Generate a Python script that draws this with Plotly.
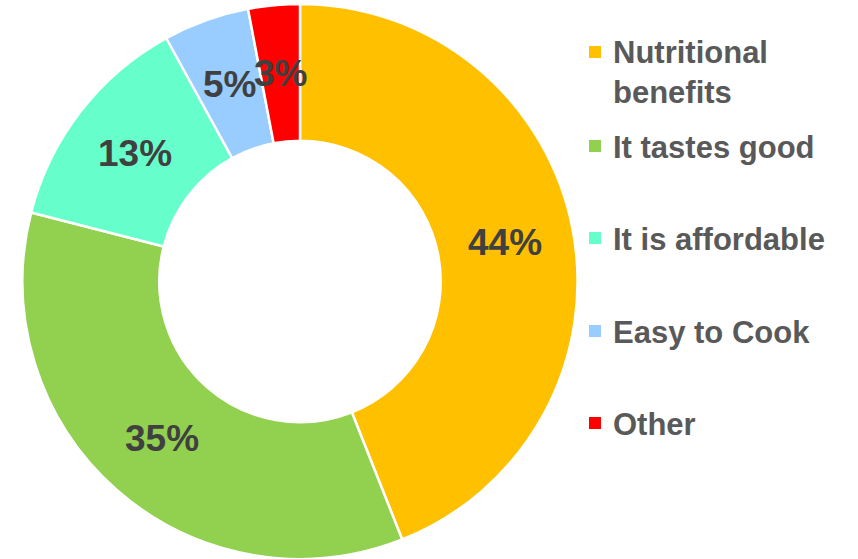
import math
import textwrap
import plotly.graph_objects as go

# Survey answers: why people choose the product
reasons = ["Nutritional benefits", "It tastes good", "It is affordable", "Easy to Cook", "Other"]
shares = [44, 35, 13, 5, 3]
colors = ["#FFC000", "#92D050", "#66FFCC", "#99CCFF", "#FF0000"]

W, H = 858, 559
FONT = "Liberation Sans"
HOLE = 0.507

# ring geometry (pixels)
dom_x = [22 / W, 578 / W]
dom_y = [0.0, 0.993]
cx = (dom_x[0] + dom_x[1]) / 2 * W
cy = (1 - (dom_y[0] + dom_y[1]) / 2) * H
r_out = min((dom_x[1] - dom_x[0]) * W, (dom_y[1] - dom_y[0]) * H) / 2
r_mid = r_out * (1 + HOLE) / 2

fig = go.Figure(
    go.Pie(
        labels=reasons,
        values=shares,
        hole=HOLE,
        sort=False,
        direction="clockwise",
        rotation=0,
        marker=dict(colors=colors, line=dict(color="white", width=2.5)),
        textinfo="none",
        domain=dict(x=dom_x, y=dom_y),
        showlegend=False,
    )
)

annotations = []

# percentage labels, horizontal, centred on the middle of each ring segment
total = sum(shares)
cum = 0
for v in shares:
    mid = (cum + v / 2) / total * 2 * math.pi   # clockwise from 12 o'clock
    cum += v
    px = cx + r_mid * math.sin(mid)
    py = cy - r_mid * math.cos(mid)
    annotations.append(dict(
        xref="paper", yref="paper", x=px / W, y=1 - py / H,
        xanchor="center", yanchor="middle", showarrow=False,
        text=f"{round(100 * v / total)}%",
        font=dict(family=FONT, size=37, color="#404040", weight="bold"),
    ))

# legend beside the ring: coloured square + bold grey label
square_y = [52, 146, 238, 331, 423]   # pixel centre of each entry's first line
LINE_GAP = 40
shapes = []
for name, col, sy in zip(reasons, colors, square_y):
    shapes.append(dict(
        type="rect", xref="paper", yref="paper",
        x0=589 / W, x1=601 / W,
        y0=1 - (sy + 6) / H, y1=1 - (sy - 6) / H,
        fillcolor=col, line=dict(width=0),
    ))
    for k, line in enumerate(textwrap.wrap(name, 16)):
        annotations.append(dict(
            xref="paper", yref="paper",
            x=611 / W, y=1 - (sy + 1 + k * LINE_GAP) / H,
            xanchor="left", yanchor="middle", align="left",
            text=line, showarrow=False,
            font=dict(family=FONT, size=31, color="#595959", weight="bold"),
        ))

fig.update_layout(
    width=W, height=H,
    margin=dict(l=0, r=0, t=0, b=0),
    paper_bgcolor="white",
    plot_bgcolor="white",
    shapes=shapes,
    annotations=annotations,
)

fig.write_html("out.html")
